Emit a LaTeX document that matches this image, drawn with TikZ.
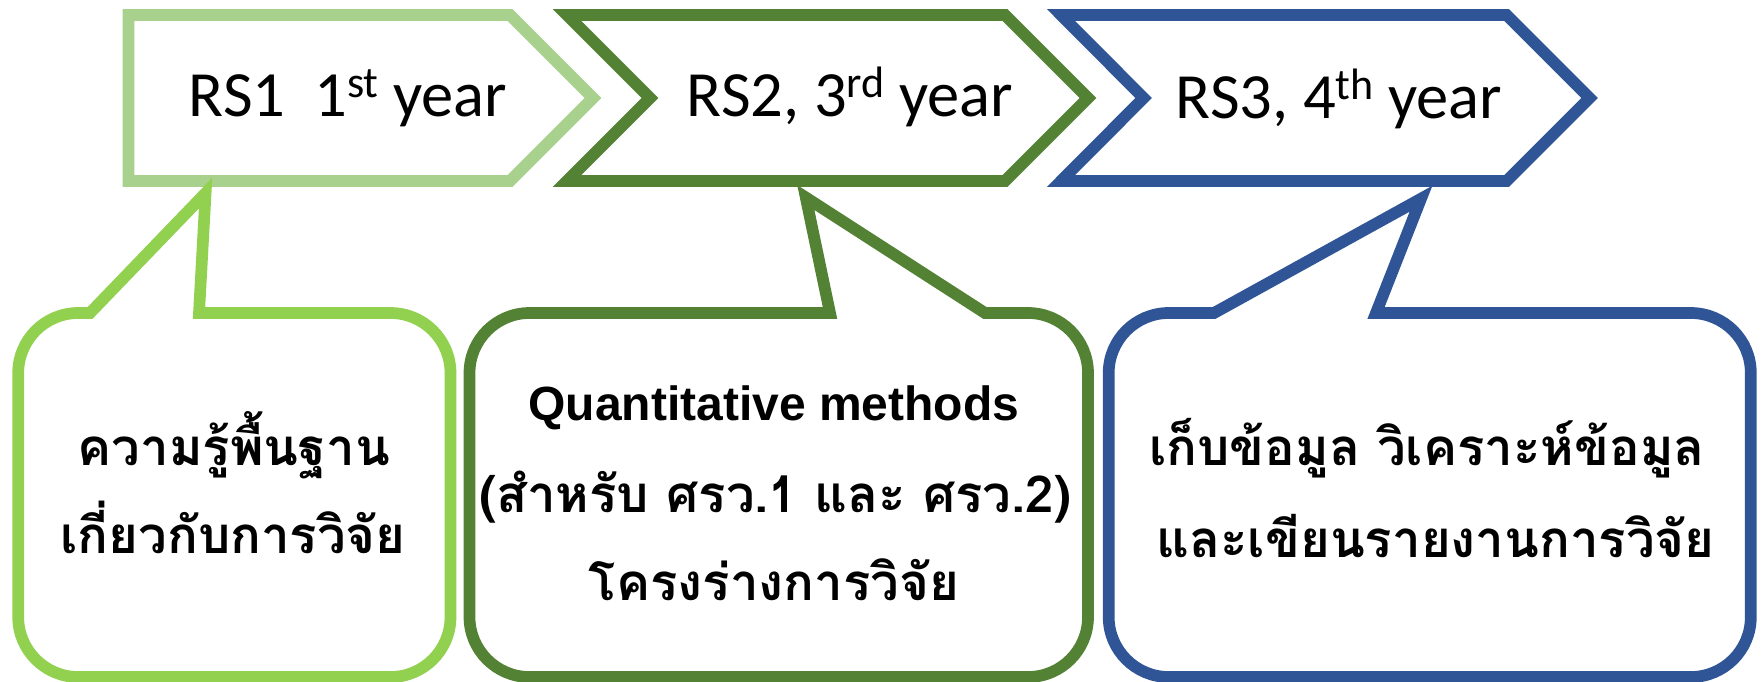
\documentclass[tikz,border=0pt]{standalone}
\usepackage{fontspec}
\setmainfont{Carlito}
\newfontfamily\thaifont[Script=Thai]{Loma}
\newfontfamily\arialfont{Liberation Sans}
\definecolor{lgA}{HTML}{A9D18E}
\definecolor{lgB}{HTML}{92D050}
\definecolor{dg}{HTML}{548235}
\definecolor{bl}{HTML}{2F5597}
\tikzset{
  shp/.style={line width=11.7pt, line join=miter, fill=white},
  ttl/.style={anchor=base, inner sep=0pt, font=\fontsize{64.5}{72}\selectfont},
  thai/.style={anchor=base, inner sep=0pt, font=\thaifont\bfseries\fontsize{51}{58}\selectfont},
  eng/.style={anchor=base, inner sep=0pt, font=\arialfont\bfseries\fontsize{48}{54}\selectfont}
}
\newcommand{\sups}[1]{\raisebox{19pt}{\fontsize{44}{44}\selectfont #1}}
\begin{document}
\begin{tikzpicture}[x=1pt,y=-1pt]
\useasboundingbox (0,0) rectangle (1762,681);
% chevrons
\draw[shp, draw=lgA] (128.5,15) -- (510,15) -- (593,98) -- (510,181) -- (128.5,181) -- cycle;
\draw[shp, draw=dg] (567,15) -- (1005,15) -- (1088,98) -- (1005,181) -- (567,181) -- (650,98) -- cycle;
\draw[shp, draw=bl] (1061,15) -- (1506.7,15) -- (1589.7,98) -- (1506.7,181) -- (1061,181) -- (1143.6,98) -- cycle;
% callouts
\draw[shp, draw=lgB] (90,313) -- (78.2,313) arc[start angle=270,end angle=180,radius=60]
  -- (18.2,617) arc[start angle=180,end angle=90,radius=60]
  -- (390.5,677) arc[start angle=90,end angle=0,radius=60]
  -- (450.5,373) arc[start angle=0,end angle=-90,radius=60]
  -- (199,313) -- (205.6,193) -- cycle;
\draw[shp, draw=dg] (830,313) -- (529.5,313) arc[start angle=270,end angle=180,radius=60]
  -- (469.5,617) arc[start angle=180,end angle=90,radius=60]
  -- (1028,677) arc[start angle=90,end angle=0,radius=60]
  -- (1088,373) arc[start angle=0,end angle=-90,radius=60]
  -- (985,313) -- (805.8,197.5) -- cycle;
\draw[shp, draw=bl] (1214,313) -- (1168.7,313) arc[start angle=270,end angle=180,radius=60]
  -- (1108.7,617) arc[start angle=180,end angle=90,radius=60]
  -- (1690.8,677) arc[start angle=90,end angle=0,radius=60]
  -- (1750.8,373) arc[start angle=0,end angle=-90,radius=60]
  -- (1376,313) -- (1421,198.7) -- cycle;
% titles
\node[ttl] (t1) at (348,116.7) {RS1\ \ 1\sups{st} year};
\node[ttl] (t2) at (850,116.7) {RS2, 3\sups{rd} year};
\node[ttl] (t3) at (1339,118) {RS3, 4\sups{th} year};
% callout texts
\node[thai] (a1) at (234,465) {ความรู้พื้นฐาน};
\node[thai] (a2) at (233,553) {เกี่ยวกับการวิจัย};
\node[eng] (b1) at (774,420) {Quantitative methods};
\node[thai] (b2) at (775,512) {(สำหรับ ศรว.1 และ ศรว.2)};
\node[thai] (b3) at (774,600) {โครงร่างการวิจัย};
\node[thai] (c1) at (1427,465) {เก็บข้อมูล วิเคราะห์ข้อมูล};
\node[thai] (c2) at (1435.5,557) {และเขียนรายงานการวิจัย};
\end{tikzpicture}
\end{document}
